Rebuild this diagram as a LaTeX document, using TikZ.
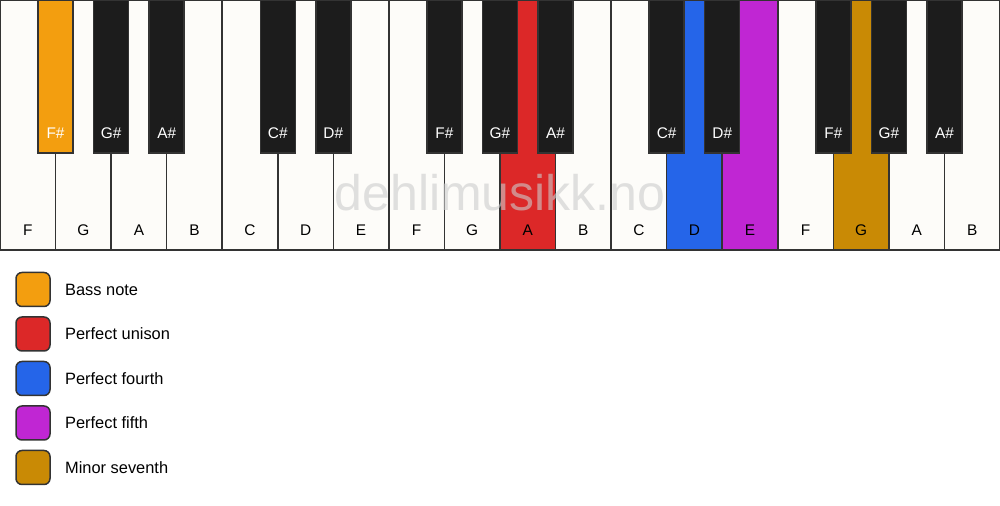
\documentclass[tikz,border=0pt]{standalone}
\usepackage{fontspec}
\setmainfont{Liberation Sans}
\usetikzlibrary{positioning}
\definecolor{keywhite}{HTML}{FDFCF9}
\definecolor{keyblack}{HTML}{1C1C1C}
\definecolor{keyedge}{HTML}{333333}
\definecolor{bassorange}{HTML}{F39E0F}
\definecolor{unisonred}{HTML}{DC2828}
\definecolor{fourthblue}{HTML}{2565E9}
\definecolor{fifthpurple}{HTML}{C026D3}
\definecolor{seventhgold}{HTML}{C98A05}

\begin{document}
\begin{tikzpicture}[x=0.5pt,y=-0.5pt]
    \tikzstyle{whitekey}=[draw=keyedge, fill=keywhite, line width=0.75pt]
    \tikzstyle{blackkey}=[draw=keyedge, fill=keyblack, line width=0.75pt]
    \tikzstyle{whitelabel}=[font=\fontsize{7.7}{9}\selectfont, text=black, inner sep=0pt]
    \tikzstyle{blacklabel}=[font=\fontsize{7.7}{9}\selectfont, text=white, inner sep=0pt]
    \tikzstyle{legendbox}=[draw=keyedge, line width=0.75pt, rounded corners=3pt, minimum size=17pt, inner sep=0pt]
    \tikzstyle{legendtext}=[font=\fontsize{8.2}{10}\selectfont, anchor=west, inner sep=0pt]
    \useasboundingbox (0,0) rectangle (1000,506);

    % White keys
    \foreach \n [count=\i from 0] in {F,G,A,B,C,D,E,F,G,A,B,C,D,E,F,G,A,B} {
        \draw[whitekey] (\i*55.556,0) rectangle ++(55.556,250);
    }
    % Coloured white keys
    \draw[whitekey, fill=unisonred] (9*55.556,0) rectangle ++(55.556,250);
    \draw[whitekey, fill=fourthblue] (12*55.556,0) rectangle ++(55.556,250);
    \draw[whitekey, fill=fifthpurple] (13*55.556,0) rectangle ++(55.556,250);
    \draw[whitekey, fill=seventhgold] (15*55.556,0) rectangle ++(55.556,250);
    \foreach \n [count=\i from 0] in {F,G,A,B,C,D,E,F,G,A,B,C,D,E,F,G,A,B} {
        \node[whitelabel] (w\i) at (\i*55.556+27.778,230) {\n};
    }

    % Watermark
    \node[font=\fontsize{25}{30}\selectfont, text=black!20, opacity=0.6] (mark) at (500,193) {dehlimusikk.no};

    % Black keys
    \foreach \b/\n in {1/F,2/G,3/A,5/C,6/D,8/F,9/G,10/A,12/C,13/D,15/F,16/G,17/A} {
        \draw[blackkey] (\b*55.556-17.5,0) rectangle ++(35,153);
        \node[blacklabel] (b\b) at (\b*55.556,133) {\n\#};
    }
    % Bass note
    \draw[blackkey, fill=bassorange] (55.556-17.5,0) rectangle ++(35,153);
    \node[blacklabel] at (55.556,133) {F\#};

    % Legend
    \node[legendbox, fill=bassorange] (l1) at (33,289.5) {};
    \node[legendbox, fill=unisonred] (l2) at (33,334) {};
    \node[legendbox, fill=fourthblue] (l3) at (33,378.5) {};
    \node[legendbox, fill=fifthpurple] (l4) at (33,423) {};
    \node[legendbox, fill=seventhgold] (l5) at (33,467.5) {};
    \node[legendtext, right=7pt of l1] (t1) {Bass note};
    \node[legendtext, right=7pt of l2] (t2) {Perfect unison};
    \node[legendtext, right=7pt of l3] (t3) {Perfect fourth};
    \node[legendtext, right=7pt of l4] (t4) {Perfect fifth};
    \node[legendtext, right=7pt of l5] (t5) {Minor seventh};
\end{tikzpicture}
\end{document}
